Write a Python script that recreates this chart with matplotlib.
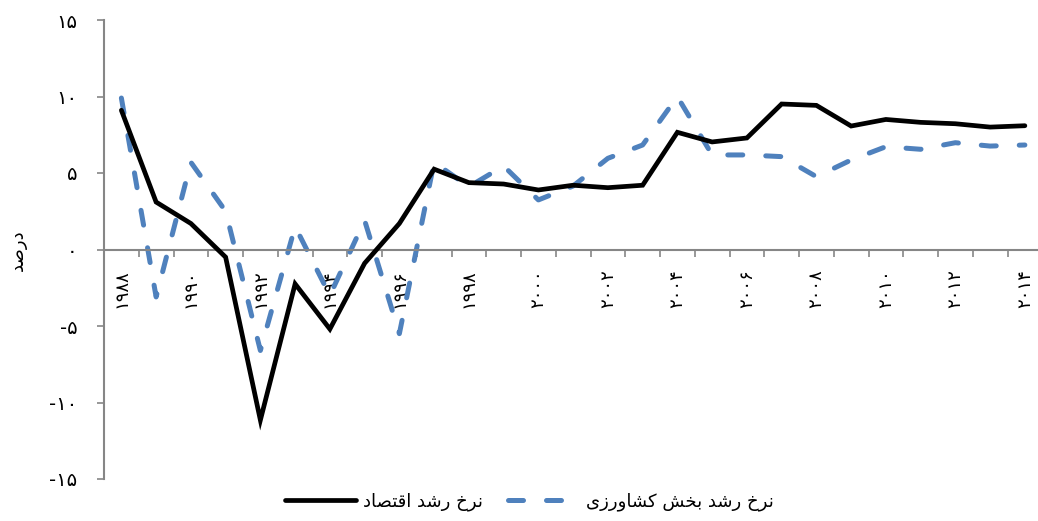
import matplotlib
matplotlib.use("Agg")
import matplotlib.pyplot as plt
from matplotlib.ticker import FixedLocator

# Growth rates (percent), 1988-2014
years = list(range(1988, 2015))
gdp_growth = [9.1, 3.1, 1.7, -0.5, -11.15, -2.25, -5.2, -0.9, 1.7, 5.25,
              4.37, 4.28, 3.89, 4.2, 4.04, 4.2, 7.66, 7.03, 7.29, 9.51,
              9.42, 8.07, 8.5, 8.31, 8.22, 8.0, 8.09]
agri_growth = [9.9, -3.1, 5.7, 2.5, -6.6, 1.5, -3.0, 1.9, -5.5, 5.7,
               4.1, 5.46, 3.24, 4.15, 5.96, 6.83, 9.99, 6.18, 6.18, 6.07,
               4.76, 5.85, 6.72, 6.55, 6.98, 6.76, 6.83]

xlabels = ['۱۹۸۸', '', '۱۹۹۰', '', '۱۹۹۲', '', '۱۹۹۴', '', '۱۹۹۶', '',
           '۱۹۹۸', '', '۲۰۰۰', '', '۲۰۰۲', '', '۲۰۰۴', '', '۲۰۰۶', '',
           '۲۰۰۸', '', '۲۰۱۰', '', '۲۰۱۲', '', '۲۰۱۴']
yticks = [-15, -10, -5, 0, 5, 10, 15]
ylabels = ['-۱۵', '-۱۰', '-۵', '۰', '۵', '۱۰', '۱۵']

label_gdp = 'نرخ رشد اقتصاد'
label_agri = 'نرخ رشد بخش کشاورزی'
label_y = 'درصد'

# matplotlib has no arabic shaping, so pick the joined glyph forms by hand
# (isolated, final, initial, medial)
FORMS = {
    'ا': ('\uFE8D', '\uFE8E', None, None),
    'ب': ('\uFE8F', '\uFE90', '\uFE91', '\uFE92'),
    'ت': ('\uFE95', '\uFE96', '\uFE97', '\uFE98'),
    'خ': ('\uFEA5', '\uFEA6', '\uFEA7', '\uFEA8'),
    'د': ('\uFEA9', '\uFEAA', None, None),
    'ر': ('\uFEAD', '\uFEAE', None, None),
    'ز': ('\uFEAF', '\uFEB0', None, None),
    'ش': ('\uFEB5', '\uFEB6', '\uFEB7', '\uFEB8'),
    'ص': ('\uFEB9', '\uFEBA', '\uFEBB', '\uFEBC'),
    'ق': ('\uFED5', '\uFED6', '\uFED7', '\uFED8'),
    'ن': ('\uFEE5', '\uFEE6', '\uFEE7', '\uFEE8'),
    'و': ('\uFEED', '\uFEEE', None, None),
    'ک': ('\uFB8E', '\uFB8F', '\uFB90', '\uFB91'),
    'ی': ('\uFBFC', '\uFBFD', '\uFBFE', '\uFBFF'),
}


def shape(text):
    out = []
    for i, ch in enumerate(text):
        if ch not in FORMS:
            out.append(ch)
            continue
        prev = text[i - 1] if i > 0 else ' '
        nxt = text[i + 1] if i < len(text) - 1 else ' '
        join_prev = prev in FORMS and FORMS[prev][2] is not None
        join_next = nxt in FORMS and FORMS[ch][2] is not None
        f = FORMS[ch]
        if join_prev and join_next:
            out.append(f[3])
        elif join_prev:
            out.append(f[1])
        elif join_next:
            out.append(f[2])
        else:
            out.append(f[0])
    return ''.join(out)[::-1]


plt.rcParams['font.family'] = ['DejaVu Sans']
axis_grey = '#868686'

fig = plt.figure(figsize=(10.38, 5.21), dpi=100)
ax = fig.add_axes([104 / 1038, 42 / 521, 934 / 1038, 459 / 521])

x = list(range(len(years)))
ax.plot(x, gdp_growth, color='black', lw=3.4, solid_joinstyle='miter',
        solid_capstyle='round', label=shape(label_gdp), zorder=3)
ax.plot(x, agri_growth, color='#4F81BD', lw=3.6, dashes=(3.0, 4.6),
        dash_capstyle='round', label=shape(label_agri), zorder=2)

ax.set_xlim(-0.5, -0.5 + 934 / 34.75)
ax.set_ylim(-15, 15)

for s in ['top', 'right']:
    ax.spines[s].set_visible(False)
ax.spines['left'].set_color(axis_grey)
ax.spines['left'].set_linewidth(1.5)
ax.spines['bottom'].set_color(axis_grey)
ax.spines['bottom'].set_linewidth(1.5)
ax.spines['bottom'].set_position(('data', 0))

ax.set_yticks(yticks)
ax.set_yticklabels(ylabels, fontsize=14)
ax.tick_params(axis='y', direction='out', length=5, width=1.2,
               color=axis_grey, pad=14)

ax.set_xticks(x)
ax.set_xticklabels(xlabels, rotation=90, fontsize=13)
ax.tick_params(axis='x', which='major', length=0, pad=14)
ax.xaxis.set_minor_locator(FixedLocator([i + 0.5 for i in x[:-1]]))
ax.tick_params(axis='x', which='minor', direction='out', length=5,
               width=1.2, color=axis_grey)

fig.text(18 / 1038, 1 - 250 / 521, shape(label_y), rotation=90,
         fontsize=13, ha='center', va='center')

fig.legend(loc='center', bbox_to_anchor=(0.51, 1 - 502 / 521), ncol=2,
           frameon=False, fontsize=13, handlelength=3.9, columnspacing=1.4,
           handletextpad=0.4)

fig.savefig('out.png', dpi=100)
